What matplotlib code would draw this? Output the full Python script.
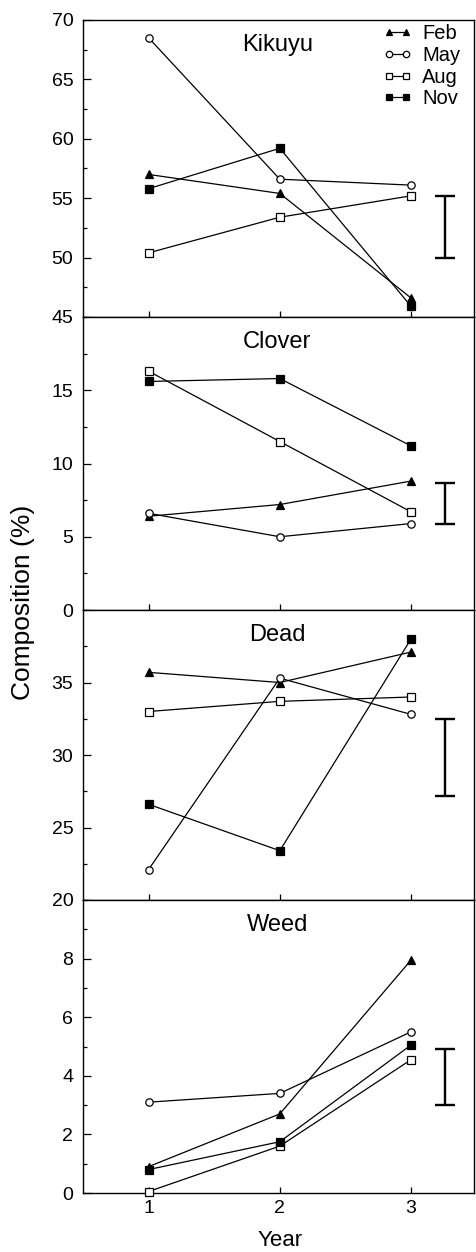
import matplotlib
matplotlib.use("Agg")
import matplotlib.pyplot as plt
from matplotlib.lines import Line2D
from matplotlib.ticker import MultipleLocator, FixedLocator
import matplotlib.transforms as mtransforms

plt.rcParams['font.family'] = ['Liberation Sans', 'DejaVu Sans']

# ---------------- data ----------------
years = [1, 2, 3]
months = ['Feb', 'May', 'Aug', 'Nov']

kikuyu_feb = [57.0, 55.4, 46.6]
kikuyu_may = [68.5, 56.6, 56.1]
kikuyu_aug = [50.4, 53.4, 55.2]
kikuyu_nov = [55.8, 59.2, 45.9]

clover_feb = [6.4, 7.2, 8.8]
clover_may = [6.6, 5.0, 5.9]
clover_aug = [16.3, 11.5, 6.7]
clover_nov = [15.6, 15.8, 11.2]

dead_feb = [35.7, 35.0, 37.1]
dead_may = [22.1, 35.3, 32.8]
dead_aug = [33.0, 33.7, 34.0]
dead_nov = [26.6, 23.4, 38.0]

weed_feb = [0.9, 2.7, 7.95]
weed_may = [3.1, 3.4, 5.5]
weed_aug = [0.05, 1.6, 4.55]
weed_nov = [0.8, 1.75, 5.05]

panel_names = ['Kikuyu', 'Clover', 'Dead', 'Weed']
lsd_low = [50.0, 5.9, 27.2, 3.0]
lsd_high = [55.2, 8.7, 32.5, 4.9]
lsd_x = 3.26

ylims = [(45, 70), (0, 20), (20, 40), (0, 10)]
yticks = [[45, 50, 55, 60, 65, 70], [0, 5, 10, 15], [20, 25, 30, 35], [0, 2, 4, 6, 8]]
yminor = [2.5, 2.5, 2.5, 1.0]

series = [
    [kikuyu_feb, kikuyu_may, kikuyu_aug, kikuyu_nov],
    [clover_feb, clover_may, clover_aug, clover_nov],
    [dead_feb, dead_may, dead_aug, dead_nov],
    [weed_feb, weed_may, weed_aug, weed_nov],
]

styles = {
    'Feb': dict(marker='^', mfc='black', mec='black', ms=5.3),
    'May': dict(marker='o', mfc='white', mec='black', ms=5.3),
    'Aug': dict(marker='s', mfc='white', mec='black', ms=5.3),
    'Nov': dict(marker='s', mfc='black', mec='black', ms=5.3),
}

# ---------------- layout ----------------
W, H = 477, 1252
fig = plt.figure(figsize=(W / 100, H / 100), dpi=100)
left_px, right_px = 83, 474
bounds_px = [(20, 317), (317, 610), (610, 900), (900, 1193)]

axes = []
for i, (t, b) in enumerate(bounds_px):
    ax = fig.add_axes([left_px / W, 1 - b / H, (right_px - left_px) / W, (b - t) / H])
    axes.append(ax)

for i, ax in enumerate(axes):
    for m, vals in zip(months, series[i]):
        st = styles[m]
        ax.plot(years, vals, color='black', lw=0.9, marker=st['marker'],
                mfc=st['mfc'], mec=st['mec'], ms=st['ms'], mew=0.9,
                clip_on=False, zorder=3)
    # LSD bar
    ax.errorbar([lsd_x], [(lsd_low[i] + lsd_high[i]) / 2],
                yerr=[[(lsd_high[i] - lsd_low[i]) / 2]],
                fmt='none', ecolor='black', elinewidth=1.7, capsize=7.5,
                capthick=1.7)
    ax.set_xlim(0.5, 3.48)
    ax.set_ylim(*ylims[i])
    ax.yaxis.set_major_locator(FixedLocator(yticks[i]))
    ax.yaxis.set_minor_locator(MultipleLocator(yminor[i]))
    ax.set_xticks(years)
    ax.tick_params(axis='y', which='major', direction='in', length=6, width=0.9,
                   labelsize=14, pad=7)
    ax.tick_params(axis='y', which='minor', direction='in', length=3, width=0.9)
    ax.tick_params(axis='x', which='major', direction='in', length=4, width=0.9,
                   labelsize=14, pad=5)
    if i < 3:
        ax.tick_params(axis='x', labelbottom=False)
    for s in ax.spines.values():
        s.set_linewidth(1.0)
    trans = mtransforms.blended_transform_factory(ax.transData, ax.transAxes)
    ax.text(1.98, 1 - 31 / (bounds_px[i][1] - bounds_px[i][0]), panel_names[i],
            transform=trans, ha='center', va='baseline', fontsize=17)

# legend
handles = [Line2D([0], [0], color='black', lw=0.9, marker=styles[m]['marker'],
                  mfc=styles[m]['mfc'], mec='black', ms=4.6, mew=0.9)
           for m in months]
leg = axes[0].legend(handles, months, loc='upper left',
                     bbox_to_anchor=((383 - left_px) / (right_px - left_px), 1 - 4 / 297),
                     frameon=False, fontsize=14.5, numpoints=2, handlelength=1.45,
                     handletextpad=0.5, labelspacing=0.14, borderpad=0,
                     borderaxespad=0)

fig.text(23 / W, 1 - 602 / H, 'Composition (%)', rotation=90, ha='center',
         va='center', fontsize=19)
fig.text(280 / W, 1 - 1246 / H, 'Year', ha='center', va='baseline', fontsize=16)

fig.savefig('out.png', dpi=100)
